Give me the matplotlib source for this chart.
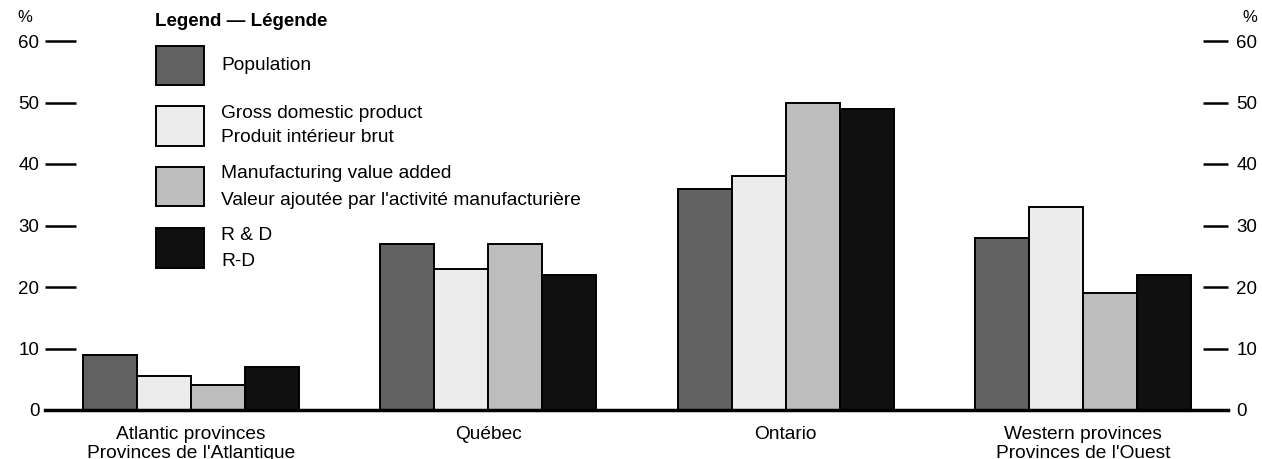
import numpy as np
import matplotlib
matplotlib.use('Agg')
import matplotlib.pyplot as plt
from matplotlib.patches import Rectangle

plt.rcParams['font.family'] = ['Liberation Sans', 'DejaVu Sans']

regions = ['Atlantic provinces\nProvinces de l\'Atlantique', 'Québec', 'Ontario',
           'Western provinces\nProvinces de l\'Ouest']
series_labels = ['Population',
                 'Gross domestic product\nProduit intérieur brut',
                 'Manufacturing value added\nValeur ajoutée par l\'activité manufacturière',
                 'R & D\nR-D']
population = [9, 27, 36, 28]
gdp = [5.5, 23, 38, 33]
manufacturing = [4, 27, 50, 19]
rnd = [7, 22, 49, 22]
yticks = [0, 10, 20, 30, 40, 50, 60]

colors = ['#626262', '#ececec', '#bdbdbd', '#101010']

W, H = 1262, 459
fig = plt.figure(figsize=(W / 100, H / 100), dpi=100)
ax = fig.add_axes([45 / W, 49 / H, (1228 - 45) / W, (410 - 41) / H])

x = np.arange(len(regions))
bw = 0.1816
for i, vals in enumerate([population, gdp, manufacturing, rnd]):
    ax.bar(x + (i - 1.5) * bw, vals, width=bw, color=colors[i],
           edgecolor='black', linewidth=1.4, zorder=2)

ax.set_xlim(-0.491, 3.488)
ax.set_ylim(0, 60)
for s in ['top', 'left', 'right']:
    ax.spines[s].set_visible(False)
ax.spines['bottom'].set_linewidth(2.5)
ax.spines['bottom'].set_zorder(3)

ax.set_yticks(yticks)
ax.tick_params(axis='y', direction='in', length=22, width=1.8, pad=4,
               labelsize=13.5, left=True, right=False)
for t in ax.yaxis.get_major_ticks():
    t.tick1line.set_clip_on(False)

# right-hand scale
ax2 = ax.twinx()
ax2.set_ylim(0, 60)
ax2.set_yticks(yticks)
for s in ax2.spines.values():
    s.set_visible(False)
ax2.tick_params(axis='y', direction='in', length=18, width=1.8, pad=6,
                labelsize=13.5)
for t in ax2.yaxis.get_major_ticks():
    t.tick2line.set_clip_on(False)

ax.set_xticks(x)
ax.set_xticklabels(regions, fontsize=13.8, linespacing=1.12)
ax.tick_params(axis='x', length=0, pad=11.5)

fig.text(25 / W, 1 - 18 / H, '%', fontsize=12, ha='center', va='center')
fig.text(1250 / W, 1 - 18 / H, '%', fontsize=12, ha='center', va='center')

# legend
fig.text(155 / W, 1 - 22 / H, 'Legend — Légende', fontsize=13.5, fontweight='bold',
         ha='left', va='center')
boxes = [(46, 85), (106, 146), (167, 206), (228, 268)]
text_y = [[65], [113, 137], [174, 200], [236, 261]]
for i, lab in enumerate(series_labels):
    y0, y1 = boxes[i]
    fig.patches.append(Rectangle((156 / W, 1 - y1 / H), 48 / W, (y1 - y0) / H,
                                 transform=fig.transFigure, facecolor=colors[i],
                                 edgecolor='black', linewidth=1.4))
    for line, ty in zip(lab.split('\n'), text_y[i]):
        fig.text(221 / W, 1 - ty / H, line, fontsize=13.8, ha='left', va='center')

fig.savefig('out.png', dpi=100)
